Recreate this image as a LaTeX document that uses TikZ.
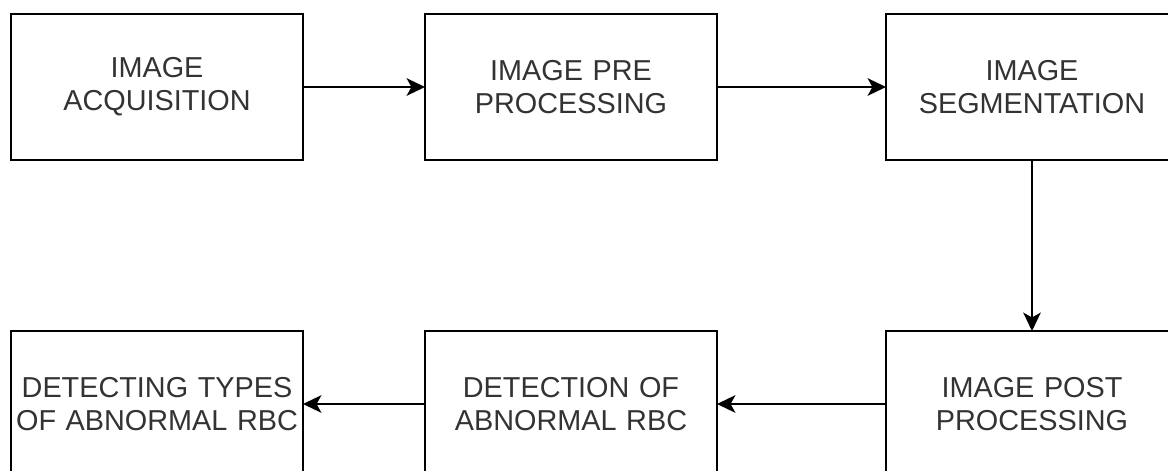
\documentclass[tikz,border=0pt]{standalone}
\usepackage{fontspec}
\setmainfont{Liberation Sans}
\usetikzlibrary{arrows.meta,positioning}
\tikzstyle{stage} = [draw, line width=1.4pt, rectangle, minimum width=7.3cm, minimum height=3.65cm, text width=7.2cm, align=center, inner sep=0pt, outer sep=0pt, text=black!80, font=\fontsize{20.5}{23.5}\selectfont]
\tikzstyle{flow} = [-{Stealth[length=0.46cm, width=0.44cm, inset=0.12cm]}, line width=1.2pt]

\begin{document}
\begin{tikzpicture}
    \useasboundingbox (0,0) rectangle (29.2,-11.775);
    \node (acq) [stage] at (3.925,-2.175) {IMAGE\\ACQUISITION};
    \node (pre) [stage, right=3.05cm of acq] {IMAGE PRE\\PROCESSING};
    \node (seg) [stage, right=4.225cm of pre] {IMAGE\\SEGMENTATION};
    \node (post) [stage, below=4.275cm of seg] {IMAGE POST\\PROCESSING};
    \node (det) [stage, left=4.225cm of post] {DETECTION OF\\ABNORMAL RBC};
    \node (types) [stage, left=3.05cm of det] {DETECTING TYPES\\OF ABNORMAL RBC};
    \draw [flow] (acq) -- (pre);
    \draw [flow] (pre) -- (seg);
    \draw [flow] (seg) -- (post);
    \draw [flow] (post) -- (det);
    \draw [flow] (det) -- (types);
\end{tikzpicture}
\end{document}
